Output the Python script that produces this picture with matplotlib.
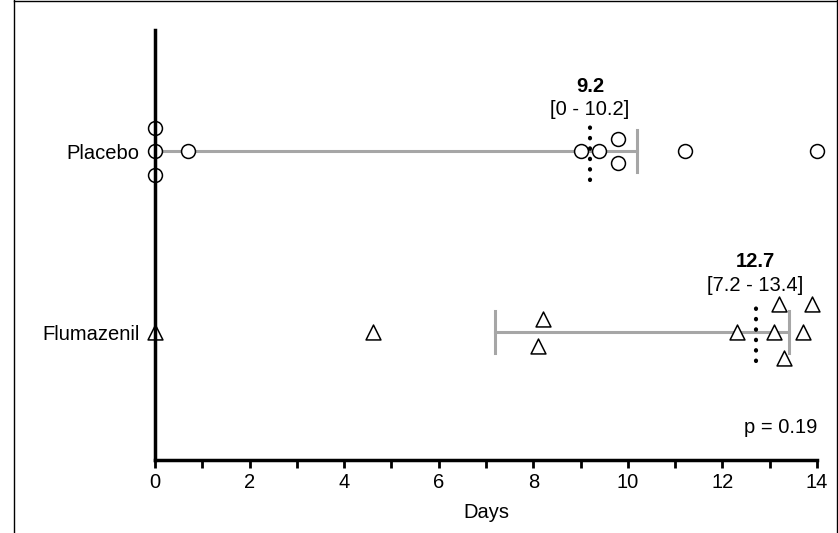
import matplotlib
matplotlib.use("Agg")
import matplotlib.pyplot as plt
from matplotlib.lines import Line2D

groups = ["Flumazenil", "Placebo"]
placebo_x = [0, 0, 0, 0.7, 9.0, 9.4, 9.8, 9.8, 11.2, 14.0]
placebo_off = [0.13, 0, -0.13, 0, 0, 0, 0.066, -0.066, 0, 0]
flum_x = [0, 4.6, 8.2, 8.1, 12.3, 13.1, 13.2, 13.3, 13.7, 13.9]
flum_off = [0, 0, 0.075, -0.075, 0, 0, 0.155, -0.145, 0, 0.155]
medians = [12.7, 9.2]
ci_low = [7.2, 0]
ci_high = [13.4, 10.2]

plt.rcParams['font.family'] = ['Liberation Sans', 'DejaVu Sans']
fig = plt.figure(figsize=(8.38, 5.33), dpi=100)
ax = fig.add_axes([155/838, 1-460/533, (817-155)/838, 430/533])
ax.set_xlim(0, 14)
ax.set_ylim(-0.707, 1.67)

for i in range(2):
    ax.plot([ci_low[i], ci_high[i]], [i, i], color='#a6a6a6', lw=2.2, zorder=1)
    for xe in (ci_low[i], ci_high[i]):
        ax.plot([xe, xe], [i-0.115, i+0.115], color='#a6a6a6', lw=2.2, zorder=1)
    ax.plot([medians[i], medians[i]], [i-0.16, i+0.14], color='black', lw=3,
            linestyle=(0, (0.1, 2.4)), dash_capstyle='round', zorder=3)

ax.scatter(placebo_x, [1+o for o in placebo_off], marker='o', s=100,
           facecolors='white', edgecolors='black', linewidths=1.1, zorder=2, clip_on=False)
ax.scatter(flum_x, [0+o for o in flum_off], marker='^', s=115,
           facecolors='white', edgecolors='black', linewidths=1.1, zorder=2, clip_on=False)

fs = 14.5
ax.text(9.2, 1.33, "9.2", ha='center', va='baseline', fontsize=fs, fontweight='bold')
ax.text(9.2, 1.2, "[0 - 10.2]", ha='center', va='baseline', fontsize=fs)
ax.text(12.7, 0.36, "12.7", ha='center', va='baseline', fontsize=fs, fontweight='bold')
ax.text(12.7, 0.225, "[7.2 - 13.4]", ha='center', va='baseline', fontsize=fs)
ax.text(14.0, -0.58, "p = 0.19", ha='right', va='bottom', fontsize=fs)

ax.set_yticks([0, 1])
ax.set_yticklabels(groups, fontsize=fs)
ax.tick_params(axis='y', length=0, pad=11)
ax.set_xticks(range(0, 15, 2))
ax.set_xticks(range(1, 15, 2), minor=True)
ax.tick_params(axis='x', which='both', direction='out', length=6, width=2, labelsize=fs)
ax.set_xlabel("Days", fontsize=fs, labelpad=8)
for s in ('top', 'right'):
    ax.spines[s].set_visible(False)
for s in ('left', 'bottom'):
    ax.spines[s].set_linewidth(2.5)

x0 = 14/838
fig.add_artist(Line2D([x0, x0], [0, 1], transform=fig.transFigure, color='black', lw=1))
fig.add_artist(Line2D([x0, 1], [0.999, 0.999], transform=fig.transFigure, color='black', lw=1))
fig.add_artist(Line2D([0.999, 0.999], [0, 1], transform=fig.transFigure, color='black', lw=1))

fig.savefig("out.png", dpi=100)
